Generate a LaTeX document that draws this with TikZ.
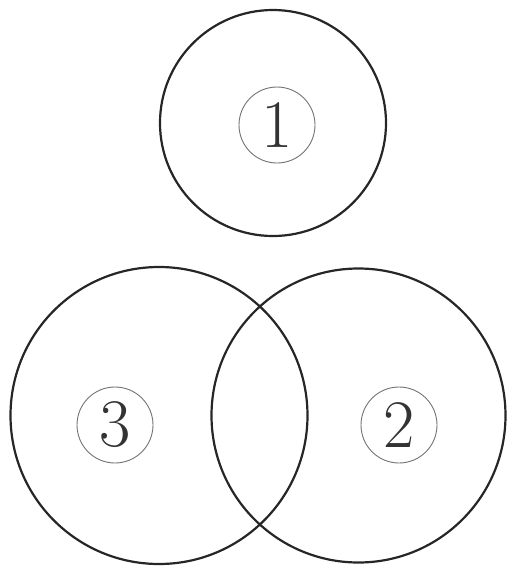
\documentclass[tikz,border=0pt]{standalone}
\begin{document}
\begin{tikzpicture}[x=1pt,y=-1pt,
  bigcirc/.style={circle,draw=black!85,line width=2.2pt,inner sep=0pt},
  numlabel/.style={circle,draw=black!55,line width=0.9pt,minimum size=76pt,inner sep=0pt,text=black!80,font=\fontsize{68}{68}\selectfont}]
\useasboundingbox (0,0) rectangle (507,566);
\node[bigcirc,minimum size=226pt] (c1) at (273,123) {};
\node[bigcirc,minimum size=297pt] (c3) at (159,415.5) {};
\node[bigcirc,minimum size=294pt] (c2) at (358.5,415.5) {};
\node[numlabel] (l1) at (277,125) {1};
\node[numlabel] (l3) at (115,425) {3};
\node[numlabel] (l2) at (399,425) {2};
\end{tikzpicture}
\end{document}
